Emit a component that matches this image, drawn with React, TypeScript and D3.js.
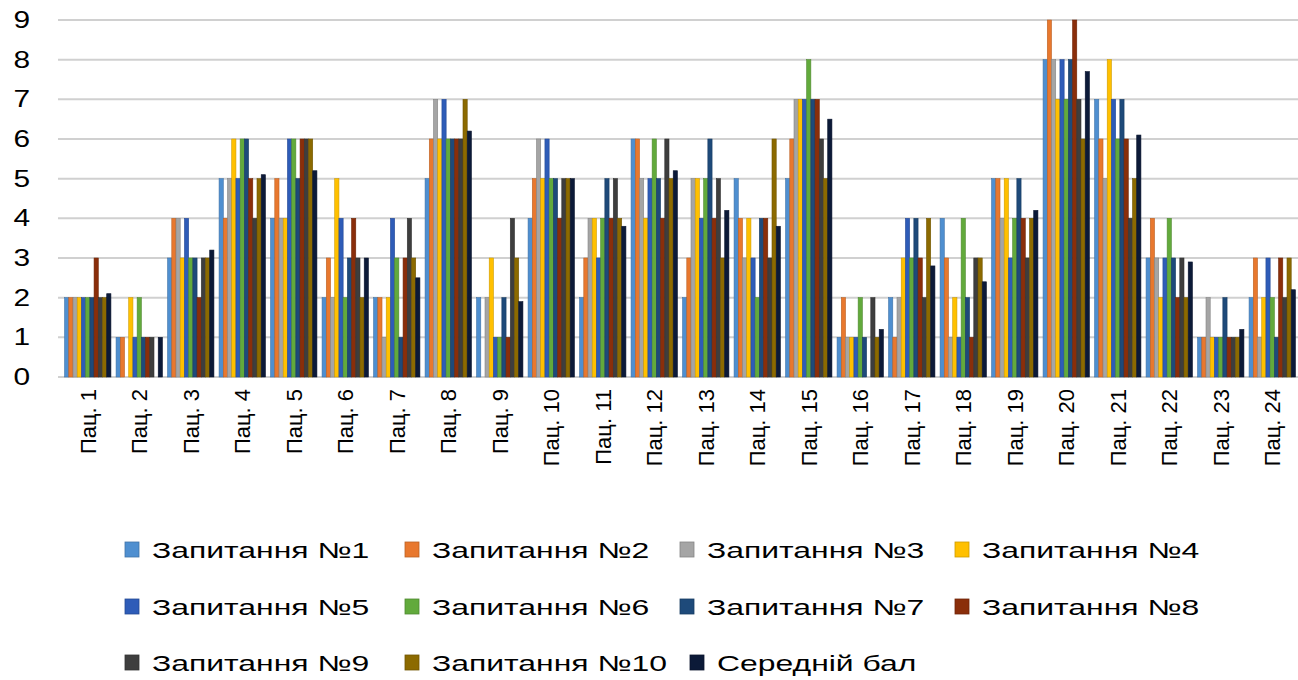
import React from "react";
import * as d3 from "d3";

const patients = Array.from({ length: 24 }, (_, i) => `Пац. ${i + 1}`);
const seriesNames = [
  "Запитання №1", "Запитання №2", "Запитання №3", "Запитання №4", "Запитання №5",
  "Запитання №6", "Запитання №7", "Запитання №8", "Запитання №9", "Запитання №10", "Середній бал",
];
const q1 = [2, 1, 3, 5, 4, 2, 2, 5, 2, 4, 2, 6, 2, 5, 5, 1, 2, 4, 5, 8, 7, 3, 1, 2];
const q2 = [2, 1, 4, 4, 5, 3, 2, 6, 0, 5, 3, 6, 3, 4, 6, 2, 1, 3, 5, 9, 6, 4, 1, 3];
const q3 = [2, 0, 4, 5, 4, 2, 1, 7, 2, 6, 4, 5, 5, 3, 7, 1, 2, 1, 4, 8, 5, 3, 2, 1];
const q4 = [2, 2, 3, 6, 4, 5, 2, 6, 3, 5, 4, 4, 5, 4, 7, 1, 3, 2, 5, 7, 8, 2, 1, 2];
const q5 = [2, 1, 4, 5, 6, 4, 4, 7, 1, 6, 3, 5, 4, 3, 7, 1, 4, 1, 3, 8, 7, 3, 1, 3];
const q6 = [2, 2, 3, 6, 6, 2, 3, 6, 1, 5, 4, 6, 5, 2, 8, 2, 3, 4, 4, 7, 6, 4, 1, 2];
const q7 = [2, 1, 3, 6, 5, 3, 1, 6, 2, 5, 5, 5, 6, 4, 7, 1, 4, 2, 5, 8, 7, 3, 2, 1];
const q8 = [3, 1, 2, 5, 6, 4, 3, 6, 1, 4, 4, 4, 4, 4, 7, 0, 3, 1, 4, 9, 6, 2, 1, 3];
const q9 = [2, 1, 3, 4, 6, 3, 4, 6, 4, 5, 5, 6, 5, 3, 6, 2, 2, 3, 3, 7, 4, 3, 1, 2];
const q10 = [2, 0, 3, 5, 6, 2, 3, 7, 3, 5, 4, 5, 3, 6, 5, 1, 4, 3, 4, 6, 5, 2, 1, 3];
const avg = [2.1, 1.0, 3.2, 5.1, 5.2, 3.0, 2.5, 6.2, 1.9, 5.0, 3.8, 5.2, 4.2, 3.8, 6.5, 1.2, 2.8, 2.4, 4.2, 7.7, 6.1, 2.9, 1.2, 2.2];
const yTicks = [0, 1, 2, 3, 4, 5, 6, 7, 8, 9];

const seriesValues = [q1, q2, q3, q4, q5, q6, q7, q8, q9, q10, avg];
const colors = [
  "#4F8FD0", "#E8782E", "#A5A5A5", "#FFC000", "#2E5CB8", "#62AA3C",
  "#1E4A7A", "#8A2E0A", "#3E3E3E", "#8C6A00", "#0C1A38",
];

const W = 1298, H = 680;
const left = 62, right = 1298, top = 20, bottom = 377;
const sx = 1.3;
const lsx = 1.45;

const legendRows = [
  [[0, 125], [1, 405], [2, 680], [3, 955]],
  [[4, 125], [5, 405], [6, 680], [7, 955]],
  [[8, 125], [9, 405], [10, 690]],
];
const legendY = [550, 607, 663];

export default function App() {
  const x0 = d3.scaleBand<string>().domain(patients).range([left, right]).paddingInner(0.1).paddingOuter(0.05);
  const x1 = d3.scaleBand<number>().domain(d3.range(seriesNames.length)).range([0, x0.bandwidth()]);
  const y = d3.scaleLinear().domain([0, 9]).range([bottom, top]);
  const font = "'Liberation Sans', Arial, sans-serif";

  return (
    <svg width={W} height={H} style={{ position: "absolute", left: 0, top: 0, background: "#fff" }}>
      {yTicks.map((t) => (
        <g key={t}>
          <line x1={left - 4} x2={right} y1={y(t)} y2={y(t)} stroke="#D0D0D0" strokeWidth={2} />
          <text transform={`translate(30,${y(t) + 8}) scale(${sx},1)`} textAnchor="end" fontSize={23} fontFamily={font} fill="#000">
            {t}
          </text>
        </g>
      ))}
      {patients.map((p, i) => (
        <g key={p} transform={`translate(${x0(p)},0)`}>
          {seriesValues.map((vals, s) => (
            <rect
              key={s}
              x={x1(s)}
              y={y(vals[i])}
              width={x1.bandwidth()}
              height={y(0) - y(vals[i])}
              fill={colors[s]}
              stroke={d3.color(colors[s])!.darker(0.6).toString()}
              strokeWidth={0.6}
            />
          ))}
        </g>
      ))}
      {patients.map((p) => (
        <text
          key={p}
          transform={`translate(${x0(p)! + x0.bandwidth() / 2 + 8},389) rotate(-90)`}
          textAnchor="end"
          fontSize={22}
          fontFamily={font}
          fill="#000"
        >
          {p}
        </text>
      ))}
      {legendRows.map((row, r) =>
        row.map(([s, lx]) => (
          <g key={s}>
            <rect x={lx} y={legendY[r] - 8} width={14} height={15} fill={colors[s]} stroke={d3.color(colors[s])!.darker(0.6).toString()} strokeWidth={0.8} />
            <text transform={`translate(${lx + 27},${legendY[r] + 8}) scale(${lsx},1)`} fontSize={22} fontFamily={font} fill="#000">
              {seriesNames[s]}
            </text>
          </g>
        ))
      )}
    </svg>
  );
}
